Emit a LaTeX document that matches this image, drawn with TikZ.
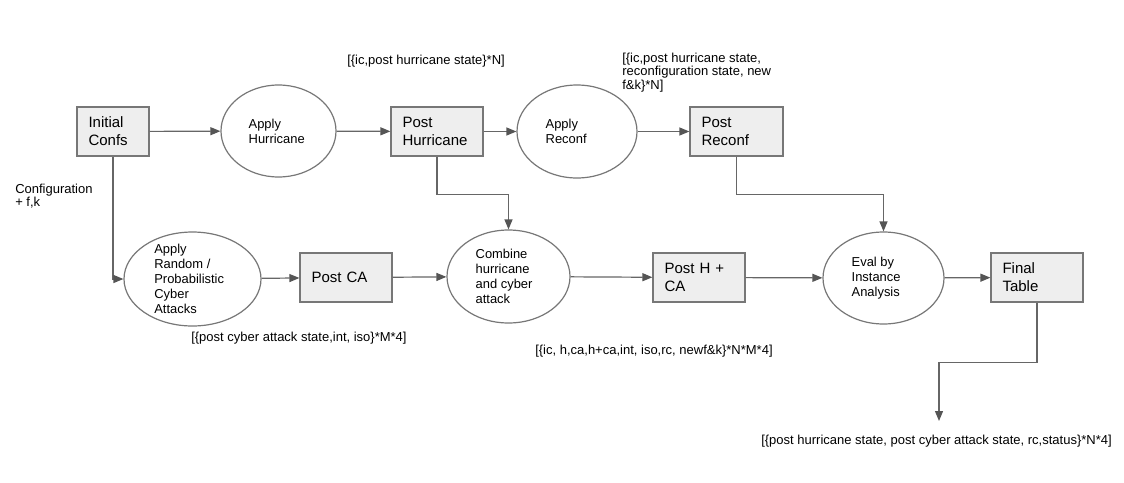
\documentclass[tikz,border=0pt]{standalone}
\usepackage{fontspec}
\setmainfont{Liberation Sans}
\usetikzlibrary{arrows.meta,shapes.geometric}
\definecolor{linecol}{HTML}{666666}
\definecolor{tipcol}{HTML}{555555}
\definecolor{boxline}{HTML}{777777}
\definecolor{boxfill}{HTML}{EEEEEE}
\begin{document}
\begin{tikzpicture}[x=0.75pt,y=-0.75pt,
  boxnode/.style={draw=boxline, fill=boxfill, line width=0.9pt, rectangle,
    minimum height=36.75pt, inner sep=0pt, align=left,
    font=\fontsize{11.25pt}{13.5pt}\selectfont},
  ellnode/.style={draw=boxline, fill=white, line width=0.9pt, ellipse, inner sep=0pt},
  elltext/.style={anchor=west, inner sep=0pt, align=left,
    font=\fontsize{9.7pt}{11.25pt}\selectfont},
  annot/.style={inner sep=0pt, align=left,
    font=\fontsize{9.75pt}{9.9pt}\selectfont},
  conn/.style={draw=linecol, line width=0.9pt,
    -{Triangle[length=7.5pt,width=6pt,fill=tipcol,color=tipcol]}},
]
\useasboundingbox (0,0) rectangle (1124,482);

% boxes
\node[boxnode, minimum width=54pt, text width=36.75pt] (init) at (113,131.5) {Initial\\Confs};
\node[boxnode, minimum width=69pt, text width=51.75pt] (posth) at (437,131.5) {Post\\Hurricane};
\node[boxnode, minimum width=69.75pt, text width=52.5pt] (postr) at (736.5,131.5) {Post\\Reconf};
\node[boxnode, minimum width=69pt, text width=51.75pt] (postca) at (346,277.5) {Post CA};
\node[boxnode, minimum width=69pt, text width=51.75pt] (posthca) at (699,277.5) {Post H +\\CA};
\node[boxnode, minimum width=69pt, text width=51.75pt] (final) at (1037,277.5) {Final\\Table};

% ellipses
\node[ellnode, minimum width=86.25pt, minimum height=69pt] (hur) at (278.5,131) {};
\node[ellnode, minimum width=90pt, minimum height=69.75pt] (rec) at (577,131.5) {};
\node[ellnode, minimum width=102.75pt, minimum height=70.5pt] (rand) at (192.5,279) {};
\node[ellnode, minimum width=92.25pt, minimum height=69.75pt] (comb) at (508.5,276.5) {};
\node[ellnode, minimum width=90.75pt, minimum height=69pt] (eval) at (883.5,278) {};

% ellipse texts
\node[elltext] (hurT) at ([xshift=21pt]hur.west) {Apply\\Hurricane};
\node[elltext] (recT) at ([xshift=21.75pt]rec.west) {Apply\\Reconf};
\node[elltext] (randT) at ([xshift=23pt]rand.west) {Apply\\Random /\\Probabilistic\\Cyber\\Attacks};
\node[elltext] (combT) at ([xshift=21.75pt]comb.west) {Combine\\hurricane\\and cyber\\attack};
\node[elltext] (evalT) at ([xshift=21.75pt]eval.west) {Eval by\\Instance\\Analysis};

% annotations
\node[annot, anchor=west] (a1) at (347,61) {[\{ic,post hurricane state\}*N]};
\node[annot, anchor=west] (a2) at (622,72.5) {[\{ic,post hurricane state,\\reconfiguration state, new\\f\&k\}*N]};
\node[annot, anchor=west] (a3) at (15,196) {Configuration\\+ f,k};
\node[annot, anchor=west] (a4) at (191,338) {[\{post cyber attack state,int, iso\}*M*4]};
\node[annot, anchor=west] (a5) at (535,351) {[\{ic, h,ca,h+ca,int, iso,rc, newf\&k\}*N*M*4]};
\node[annot, anchor=west] (a6) at (761,441) {[\{post hurricane state, post cyber attack state, rc,status\}*N*4]};

\coordinate (tblend) at (939,421);

% connectors
\draw[conn] (init) -- (hur);
\draw[conn] (hur) -- (posth);
\draw[conn] (posth) -- (rec);
\draw[conn] (rec) -- (postr);
\draw[conn] (init.south) |- (rand.west);
\draw[conn] (rand) -- (postca);
\draw[conn] (postca) -- (comb);
\draw[conn] (comb) -- (posthca);
\draw[conn] (posthca) -- (eval);
\draw[conn] (eval) -- (final);
\draw[conn] (posth.south) -- ++(0,38) -| (comb.north);
\draw[conn] (postr.south) -- ++(0,38) -| (eval.north);
\draw[conn] (final.south) -- ++(0,59.5) -| (tblend);
\end{tikzpicture}
\end{document}
